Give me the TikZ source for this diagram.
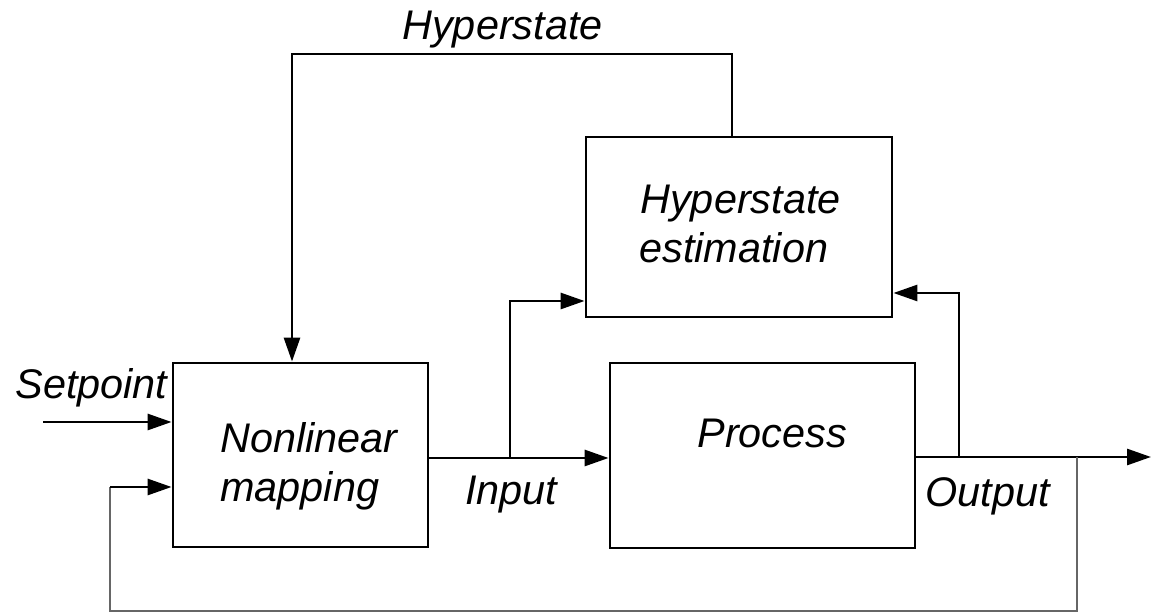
\documentclass[tikz,border=0pt]{standalone}
\usepackage{fontspec}
\setmainfont{Liberation Sans}
\usetikzlibrary{arrows.meta,calc}

\tikzset{
  block/.style={draw=black, line width=1.4pt, rectangle, inner sep=0pt},
  lbl/.style={inner sep=0pt, anchor=base west, font=\fontsize{20.7}{24.8}\selectfont\itshape},
  wire/.style={draw=black, line width=1.4pt},
  arr/.style={wire, -{Triangle[length=12pt,width=8pt]}},
  fbwire/.style={draw=black!60, line width=1.4pt},
}

\begin{document}
\begin{tikzpicture}[x=0.5pt, y=-0.5pt]
  \useasboundingbox (0,0) rectangle (1151,613);

  % blocks
  \node[block, minimum width=127.5pt, minimum height=92pt] (nl) at (300.5,455) {};
  \node[block, minimum width=152.5pt, minimum height=92.5pt] (pr) at (762.5,455.5) {};
  \node[block, minimum width=153pt, minimum height=90pt] (he) at (739,227) {};

  % block texts
  \node[lbl] (nl-l1) at (220,453) {Nonlinear};
  \node[lbl] (nl-l2) at (220,502) {mapping};
  \node[lbl] (pr-l1) at (697,448) {Process};
  \node[lbl] (he-l1) at (640,214) {Hyperstate};
  \node[lbl] (he-l2) at (639,263) {estimation};

  % signal labels
  \node[lbl] (hs-lbl) at (402,40) {Hyperstate};
  \node[lbl] (sp-lbl) at (15,399) {Setpoint};
  \node[lbl] (in-lbl) at (465,505) {Input};
  \node[lbl] (out-lbl) at (925,507) {Output};

  % routing points
  \coordinate (hs-r) at (732,54);
  \coordinate (hs-l) at (292,54);
  \coordinate (sp) at (43,422);
  \coordinate (u) at (510,458);
  \coordinate (u-up) at (510,301);
  \coordinate (y) at (959,457);
  \coordinate (y-up) at (959,293);
  \coordinate (fb) at (1077,457);
  \coordinate (out-end) at (1151,457);
  \coordinate (fb-r) at (1077,611);
  \coordinate (fb-l) at (110,611);
  \coordinate (fb-in) at (110,487);

  % hyperstate feedback to the mapping
  \draw[arr] (he.north -| hs-r) -- (hs-r) -- (hs-l) -- (nl.north -| hs-l);

  % setpoint
  \draw[arr] (sp) -- (sp -| nl.west);

  % input to the process and to the estimator
  \draw[arr] (nl.east |- u) -- (pr.west |- u);
  \draw[arr] (u) -- (u-up) -- (he.west |- u-up);

  % output, its branch to the estimator, and the loop back
  \draw[arr] (pr.east |- y) -- (out-end);
  \draw[arr] (y) -- (y-up) -- (he.east |- y-up);
  \draw[fbwire] (fb) -- (fb-r) -- (fb-l) -- (fb-in);
  \draw[arr] (fb-in) -- (nl.west |- fb-in);
\end{tikzpicture}
\end{document}
